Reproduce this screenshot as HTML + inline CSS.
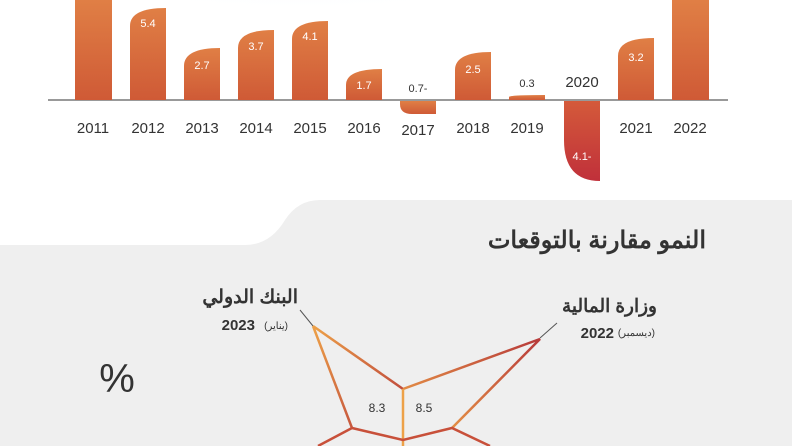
<!DOCTYPE html>
<html><head><meta charset="utf-8"><style>
html,body{margin:0;padding:0;width:792px;height:446px;overflow:hidden;background:#fff}
svg{display:block}
text{font-family:"Liberation Sans","Noto Sans CJK SC",sans-serif}
</style></head><body>
<svg width="792" height="446" viewBox="0 0 792 446" xmlns="http://www.w3.org/2000/svg">
<defs>
<linearGradient id="bar" x1="0" y1="0" x2="0" y2="1"><stop offset="0" stop-color="#e07f45"/><stop offset="1" stop-color="#cf5a36"/></linearGradient>
<linearGradient id="neg" x1="0" y1="0" x2="0" y2="1"><stop offset="0" stop-color="#d45a3a"/><stop offset="1" stop-color="#c0303a"/></linearGradient>
<radialGradient id="glow" cx="0.5" cy="0" r="0.6"><stop offset="0" stop-color="#dbe9f2"/><stop offset="1" stop-color="#fff" stop-opacity="0"/></radialGradient>
<linearGradient id="l1" x1="0" y1="0" x2="1" y2="1"><stop offset="0" stop-color="#eda148"/><stop offset="1" stop-color="#b73a3a"/></linearGradient>
<linearGradient id="l2" x1="0" y1="1" x2="1" y2="0"><stop offset="0" stop-color="#eda148"/><stop offset="1" stop-color="#b73a3a"/></linearGradient>
</defs>
<rect x="0" y="0" width="792" height="446" fill="#fff"/>
<ellipse cx="300" cy="0" rx="260" ry="60" fill="url(#glow)"/>
<path d="M0 245 L245 245 Q270 245 285 220 Q298 200 320 200 L792 200 L792 446 L0 446 Z" fill="#efefef"/>
<line x1="48" y1="100" x2="728" y2="100" stroke="#999" stroke-width="2"/>
<g fill="url(#bar)">
<rect x="75" y="0" width="37" height="100"/>
<path d="M130 100 V26 Q130 8 166 8 V100 Z"/>
<path d="M184 100 V66 Q184 48 220 48 V100 Z"/>
<path d="M238 100 V48 Q238 30 274 30 V100 Z"/>
<path d="M292 100 V39 Q292 21 328 21 V100 Z"/>
<path d="M346 100 V85 Q346 69 382 69 V100 Z"/>
<path d="M455 100 V70 Q455 52 491 52 V100 Z"/>
<path d="M509 100 V97 Q509 95 545 95 V100 Z"/>
<path d="M618 100 V56 Q618 38 654 38 V100 Z"/>
<rect x="672" y="0" width="37" height="100"/>
</g>
<path d="M400 101 H436 V114 H412 Q400 114 400 104 Z" fill="url(#bar)"/>
<path d="M564 101 H600 V181 Q564 181 564 140 Z" fill="url(#neg)"/>
<g font-size="11" fill="#fff" text-anchor="middle">
<text x="148" y="27">5.4</text><text x="202" y="69">2.7</text><text x="256" y="50">3.7</text>
<text x="310" y="40">4.1</text><text x="364" y="89">1.7</text><text x="473" y="73">2.5</text>
<text x="636" y="61">3.2</text><text x="582" y="160">4.1-</text>
</g>
<g font-size="11" fill="#333" text-anchor="middle">
<text x="418" y="92">0.7-</text><text x="527" y="87">0.3</text>
</g>
<text x="582" y="87" font-size="15" fill="#333" text-anchor="middle">2020</text>
<g font-size="15" fill="#333" text-anchor="middle">
<text x="93" y="133">2011</text><text x="148" y="133">2012</text><text x="202" y="133">2013</text>
<text x="256" y="133">2014</text><text x="310" y="133">2015</text><text x="364" y="133">2016</text>
<text x="418" y="135">2017</text><text x="473" y="133">2018</text><text x="527" y="133">2019</text>
<text x="636" y="133">2021</text><text x="690" y="133">2022</text>
</g>
<text x="706" y="248" font-size="24" font-weight="bold" fill="#333" text-anchor="end">النمو مقارنة بالتوقعات</text>
<text x="298" y="303" font-size="19" font-weight="bold" fill="#333" text-anchor="end">البنك الدولي</text>
<text x="288" y="329" font-size="10" fill="#333" text-anchor="end">(يناير)</text>
<text x="255" y="330" font-size="15" font-weight="bold" fill="#333" text-anchor="end">2023</text>
<text x="657" y="312" font-size="18.5" font-weight="bold" fill="#333" text-anchor="end">وزارة المالية</text>
<text x="655" y="336" font-size="10" fill="#333" text-anchor="end">(ديسمبر)</text>
<text x="614" y="338" font-size="15" font-weight="bold" fill="#333" text-anchor="end">2022</text>
<text x="117" y="392" font-size="40" fill="#333" text-anchor="middle">%</text>
<line x1="300" y1="310" x2="313" y2="326" stroke="#555" stroke-width="1"/>
<line x1="557" y1="323" x2="540" y2="338" stroke="#555" stroke-width="1"/>
<g fill="none" stroke-width="2.5">
<path d="M313 326 L403 389 M313 326 L352 428" stroke="url(#l1)"/>
<path d="M403 389 L540 339 L452 428" stroke="url(#l2)"/>
<path d="M403 389 V446" stroke="#eda148"/>
<path d="M352 428 L403 440 L452 428 L490 446 M352 428 L318 446" stroke="#c8503a"/>
</g>
<text x="377" y="412" font-size="12" fill="#333" text-anchor="middle">8.3</text>
<text x="424" y="412" font-size="12" fill="#333" text-anchor="middle">8.5</text>
</svg>
</body></html>
